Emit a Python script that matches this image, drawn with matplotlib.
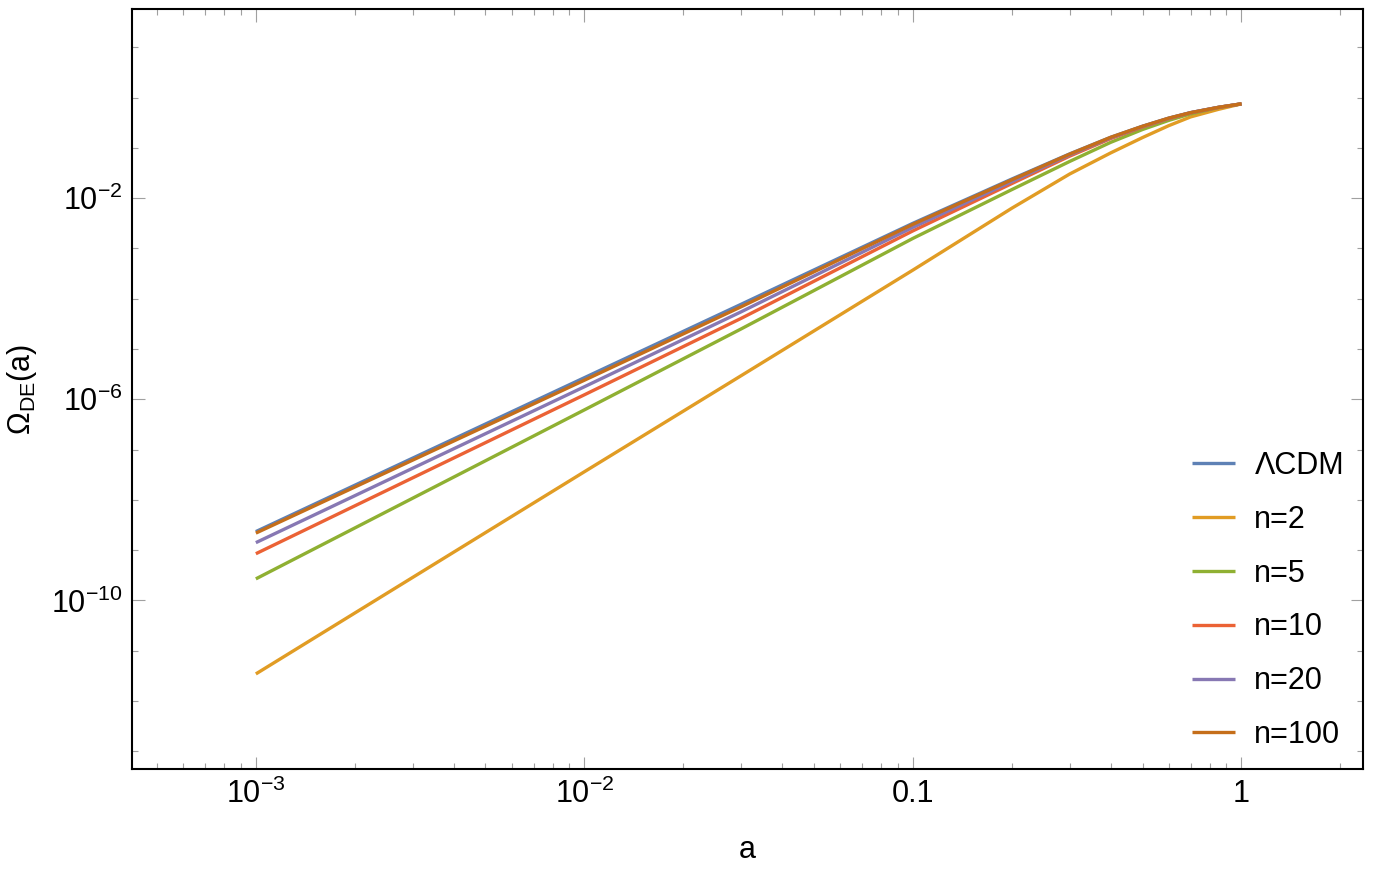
import matplotlib
matplotlib.use("Agg")
import matplotlib.pyplot as plt
import numpy as np
from matplotlib.ticker import FixedLocator, NullFormatter

plt.rcParams['font.family'] = ['Liberation Sans', 'DejaVu Sans']
plt.rcParams['mathtext.fontset'] = 'custom'
plt.rcParams['mathtext.rm'] = 'Liberation Sans'
plt.rcParams['mathtext.default'] = 'regular'

# scale factor a and log10 of Omega_DE
a_vals = [1e-3, 1e-2, 0.03, 0.1, 0.2, 0.3, 0.4, 0.5, 0.6, 0.7, 0.85, 1.0]
log_lcdm = [-8.63, -5.57, -4.11, -2.50, -1.62, -1.12, -0.79, -0.57, -0.41, -0.30, -0.195, -0.125]
log_n2 = [-11.46, -7.44, -5.53, -3.43, -2.20, -1.52, -1.10, -0.795, -0.56, -0.385, -0.235, -0.125]
log_n5 = [-9.57, -6.21, -4.60, -2.80, -1.83, -1.27, -0.89, -0.635, -0.455, -0.325, -0.20, -0.125]
log_n10 = [-9.07, -5.91, -4.39, -2.65, -1.71, -1.165, -0.815, -0.585, -0.42, -0.305, -0.197, -0.125]
log_n20 = [-8.85, -5.75, -4.26, -2.58, -1.67, -1.14, -0.80, -0.575, -0.415, -0.30, -0.195, -0.125]
log_n100 = [-8.66, -5.62, -4.16, -2.52, -1.635, -1.125, -0.79, -0.57, -0.41, -0.30, -0.195, -0.125]

labels = ["ΛCDM", "n=2", "n=5", "n=10", "n=20", "n=100"]
colors = ["#5E81B5", "#E19C24", "#8FB032", "#EB6235", "#8778B3", "#C56E1A"]
series = [log_lcdm, log_n2, log_n5, log_n10, log_n20, log_n100]

x_major = [1e-3, 1e-2, 0.1, 1]
x_major_labels = [r"$10^{-3}$", r"$10^{-2}$", "0.1", "1"]
y_major = [1e-10, 1e-6, 1e-2]
y_major_labels = [r"$10^{-10}$", r"$10^{-6}$", r"$10^{-2}$"]

fig = plt.figure(figsize=(13.75, 8.69), dpi=100)
ax = fig.add_axes([0.096, 0.1151, 0.8953, 0.8745])

for vals, label, c in zip(series, labels, colors):
    ax.plot(a_vals, np.power(10.0, vals), color=c, lw=2.4, label=label,
            solid_capstyle='butt', solid_joinstyle='round')

ax.set_xscale('log')
ax.set_yscale('log')
ax.set_xlim(10 ** -3.377, 10 ** 0.370)
ax.set_ylim(10 ** -13.35, 10 ** 1.76)

ax.xaxis.set_major_locator(FixedLocator(x_major))
ax.set_xticklabels(x_major_labels)
x_minor = [m * 10.0 ** d for d in range(-4, 1) for m in range(2, 10)]
ax.xaxis.set_minor_locator(FixedLocator(x_minor))
ax.xaxis.set_minor_formatter(NullFormatter())

ax.yaxis.set_major_locator(FixedLocator(y_major))
ax.set_yticklabels(y_major_labels)
y_minor = [10.0 ** d for d in range(-14, 2)]
ax.yaxis.set_minor_locator(FixedLocator(y_minor))
ax.yaxis.set_minor_formatter(NullFormatter())

ax.tick_params(which='both', direction='in', top=True, right=True,
               color='#a0a0a0', width=0.8, labelsize=22)
ax.tick_params(which='major', length=9, pad=7)
ax.tick_params(which='minor', length=4.5)
for s in ax.spines.values():
    s.set_linewidth(1.5)

ax.set_xlabel('a', fontsize=22, labelpad=18)
ax.set_ylabel(r'Ω$_{\mathrm{DE}}$(a)', fontsize=22, labelpad=8)

ax.legend(loc='lower right', frameon=False, fontsize=22, handlelength=1.4,
          handletextpad=0.65, labelspacing=0.78, borderaxespad=0.22)

fig.savefig('out.png', dpi=100)
